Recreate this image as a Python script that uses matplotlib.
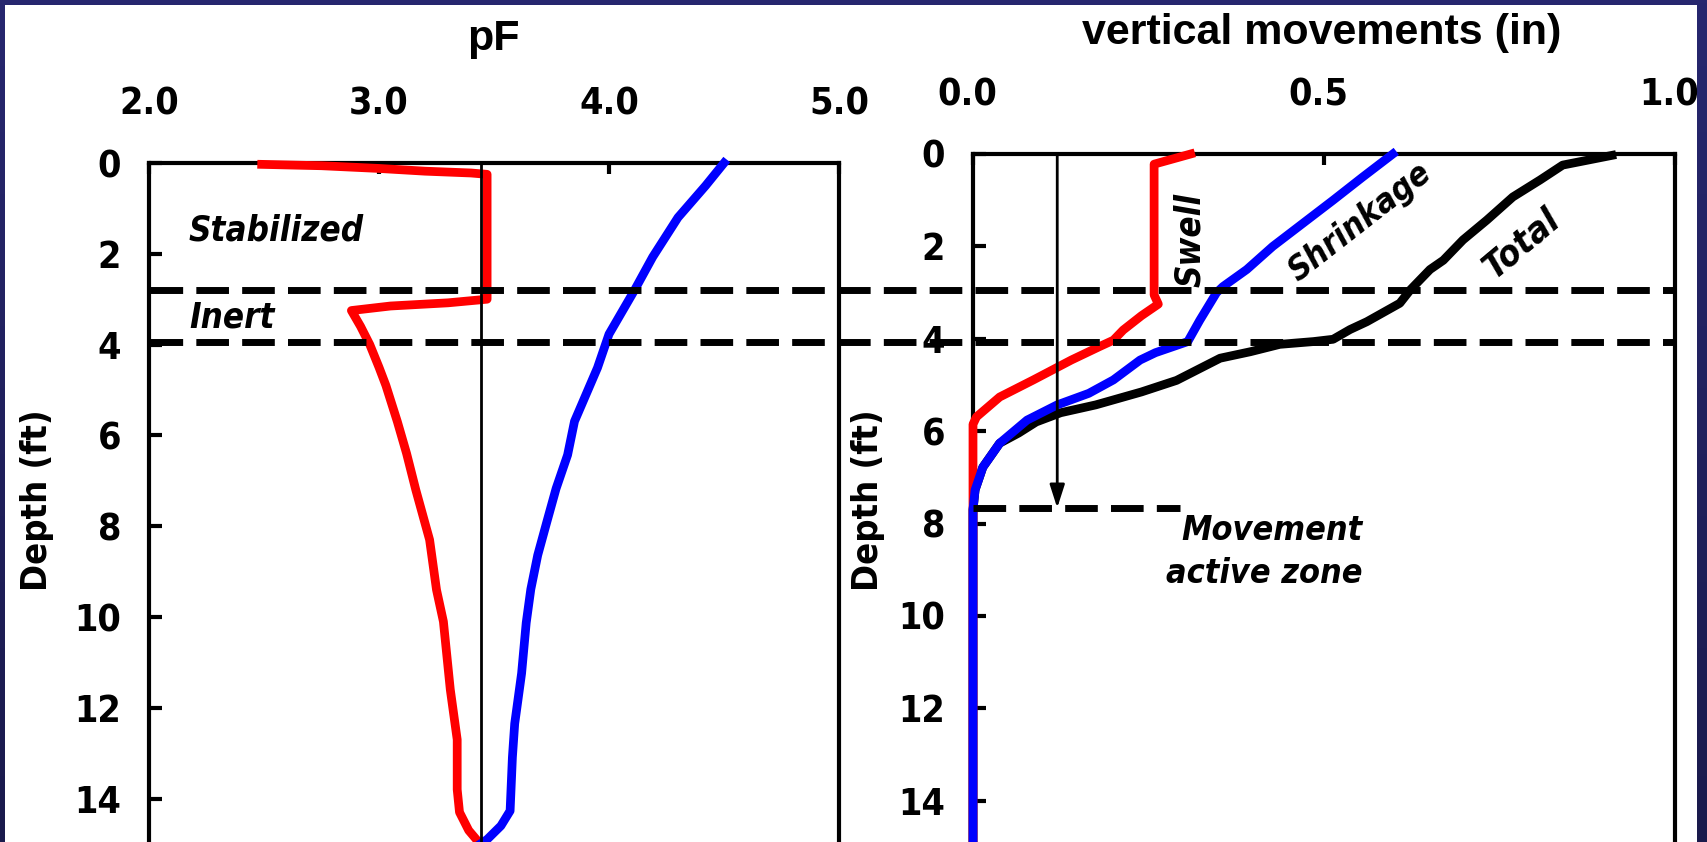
import os
import matplotlib
matplotlib.use('Agg')
import matplotlib.pyplot as plt
import numpy as np
from matplotlib import font_manager as fm
from matplotlib.font_manager import FontProperties
from matplotlib.lines import Line2D
from matplotlib.patches import Rectangle
from matplotlib.transforms import blended_transform_factory, ScaledTranslation

# ---------------- data ----------------
pf_ticks = [2.0, 3.0, 4.0, 5.0]
depth_ticks = [0, 2, 4, 6, 8, 10, 12, 14]

# left panel: suction profiles (pF) vs depth (ft)
red_depth = [0.03, 0.06, 0.12, 0.18, 0.22, 0.25, 3.0, 3.08, 3.15, 3.25, 3.6, 4.0, 4.5,
             4.9, 5.7, 6.4, 7.2, 8.3, 9.4, 10.1, 11.6, 12.7, 13.8, 14.3, 14.7, 15.0]
red_pf = [2.49, 2.75, 3.0, 3.2, 3.4, 3.47, 3.47, 3.3, 3.05, 2.88, 2.92, 2.96, 3.0,
          3.03, 3.08, 3.12, 3.16, 3.22, 3.25, 3.28, 3.31, 3.34, 3.34, 3.35, 3.39, 3.44]
blue_depth = [0.0, 0.5, 1.2, 2.07, 2.81, 3.77, 4.51, 5.69, 6.43, 7.17, 7.9, 8.64, 9.39,
              10.13, 11.24, 12.35, 13.09, 14.27, 14.6, 14.9, 15.0]
blue_pf = [4.50, 4.42, 4.30, 4.19, 4.11, 4.0, 3.95, 3.85, 3.82, 3.77, 3.73, 3.69, 3.66,
           3.64, 3.62, 3.59, 3.58, 3.57, 3.53, 3.47, 3.44]
pf_ref = 3.443

# right panel: vertical movements (in) vs depth (ft)
mv_ticks = [0.0, 0.5, 1.0]
swell_depth = [0.0, 0.22, 3.05, 3.25, 3.5, 3.81, 4.03, 4.17, 4.46, 4.89, 5.26, 5.69, 5.85, 15.0]
swell_in = [0.31, 0.258, 0.258, 0.264, 0.24, 0.214, 0.2, 0.18, 0.14, 0.086, 0.038, 0.005, 0.0, 0.0]
shrink_depth = [0.0, 0.5, 1.0, 1.5, 2.0, 2.5, 2.87, 3.0, 3.6, 4.06, 4.3, 4.46, 4.89, 5.18,
                5.43, 5.76, 6.26, 6.78, 7.27, 7.7, 15.0]
shrink_in = [0.598, 0.555, 0.513, 0.47, 0.427, 0.39, 0.356, 0.347, 0.323, 0.306, 0.26, 0.238,
             0.2, 0.165, 0.12, 0.077, 0.038, 0.014, 0.003, 0.0, 0.0]
total_depth = [0.03, 0.06, 0.24, 0.56, 0.93, 1.43, 1.86, 2.3, 2.5, 2.94, 3.23, 3.63, 3.8, 4.01,
               4.06, 4.12, 4.28, 4.42, 4.9, 5.15, 5.43, 5.6, 5.8, 6.04, 6.26, 6.78, 7.27, 7.7, 15.0]
total_in = [0.91, 0.90, 0.84, 0.808, 0.769, 0.732, 0.698, 0.67, 0.651, 0.623, 0.608, 0.561, 0.537,
            0.513, 0.485, 0.437, 0.395, 0.352, 0.29, 0.24, 0.175, 0.125, 0.09, 0.065, 0.038,
            0.014, 0.003, 0.0, 0.0]
arrow_x = 0.12
active_zone_depth = 7.66
active_zone_end = 0.295
zone_bounds = [2.95, 4.06]


# ---------------- fonts ----------------
def _weight(w):
    if isinstance(w, (int, float)):
        return int(w)
    return {'ultralight': 200, 'light': 300, 'normal': 400, 'regular': 400, 'book': 400,
            'medium': 500, 'roman': 400, 'semibold': 600, 'demibold': 600, 'demi': 600,
            'bold': 700, 'heavy': 800, 'extra bold': 800, 'black': 900}.get(str(w).lower(), 400)


FAM_PREF = ['liberation sans narrow', 'arial narrow', 'dejavu sans', 'noto sans',
            'open sans', 'roboto', 'lato', 'inter']


def condensed_file(italic):
    best, best_score = None, None
    for f in fm.fontManager.ttflist:
        nm = (f.name + ' ' + os.path.basename(f.fname)).lower()
        st = str(f.stretch).lower()
        if 'mono' in nm or ('serif' in nm and 'sans' not in nm):
            continue
        if not (st in ('condensed', 'semi-condensed') or 'narrow' in nm or (
                'condensed' in nm and 'extra' not in nm and 'ultra' not in nm
                and 'semi' not in nm)):
            continue
        w = _weight(f.weight)
        if w < 600:
            continue
        is_it = f.style in ('italic', 'oblique') or 'italic' in nm or 'oblique' in nm
        if is_it != italic:
            continue
        fam_rank = len(FAM_PREF)
        for i, p in enumerate(FAM_PREF):
            if nm.startswith(p):
                fam_rank = i
                break
        score = (fam_rank, abs(w - 700), 'semi' in nm or 'semi' in st)
        if best_score is None or score < best_score:
            best, best_score = f.fname, score
    return best


_reg = condensed_file(False)
_ita = condensed_file(True)


def fp(size, italic=False):
    path = _ita if italic else _reg
    if path is not None:
        return FontProperties(fname=path, size=size)
    return FontProperties(family=['Liberation Sans', 'DejaVu Sans'], weight='bold',
                          style='italic' if italic else 'normal', size=size * 0.9)


WIDE = ['Liberation Sans', 'DejaVu Sans']

# ---------------- figure ----------------
W, H = 1708, 842
fig = plt.figure(figsize=(W / 100, H / 100), dpi=100)

# background: navy frame + white panel
bg = fig.add_axes([0, 0, 1, 1], zorder=-5)
grad = np.linspace(0, 1, 256).reshape(-1, 1)
cmap = matplotlib.colors.LinearSegmentedColormap.from_list('nv', ['#27276f', '#1a1a4c'])
bg.imshow(grad, aspect='auto', cmap=cmap, extent=[0, 1, 0, 1], origin='upper')
bg.add_patch(Rectangle((5 / W, 0), (W - 16) / W, (H - 5) / H, transform=bg.transAxes,
                       facecolor='white', edgecolor='none'))
bg.set_xlim(0, 1)
bg.set_ylim(0, 1)
bg.axis('off')

ax1 = fig.add_axes([149 / W, 1 - 844 / H, 690 / W, (844 - 163) / H])
ax2 = fig.add_axes([973 / W, 1 - 847 / H, 702 / W, (847 - 154) / H])

tick_fp = fp(27)
for ax in (ax1, ax2):
    ax.set_facecolor('none')
    ax.set_ylim(15, 0)
    ax.set_yticks(depth_ticks)
    ax.set_yticklabels([str(d) for d in depth_ticks], fontproperties=tick_fp)
    for s in ax.spines.values():
        s.set_linewidth(3)
    ax.tick_params(axis='x', which='both', top=True, bottom=False, labeltop=True,
                   labelbottom=False, direction='in', length=8, width=3, pad=29)
    ax.tick_params(axis='y', which='both', left=True, right=False, direction='in',
                   length=9, width=3, pad=20)

ax1.set_xlim(2.0, 5.0)
ax1.set_xticks(pf_ticks)
ax1.set_xticklabels([f'{v:.1f}' for v in pf_ticks], fontproperties=tick_fp)
ax2.set_xlim(0.0, 1.0)
ax2.set_xticks(mv_ticks)
ax2.set_xticklabels([f'{v:.1f}' for v in mv_ticks], fontproperties=tick_fp)

# right-panel top labels sit slightly left of their ticks in the reference
shift = ScaledTranslation(-6 / 100, 0, fig.dpi_scale_trans)
for tick in ax2.xaxis.get_major_ticks():
    tick.label2.set_transform(tick.label2.get_transform() + shift)

LW = 6.3
ax1.plot(red_pf, red_depth, color='#ff0000', lw=LW, clip_on=False, zorder=4,
         solid_joinstyle='round')
ax1.plot(blue_pf, blue_depth, color='#0000ff', lw=LW, clip_on=False, zorder=4,
         solid_joinstyle='round')
ax1.axvline(pf_ref, color='black', lw=2.0, zorder=6)

ax2.plot(total_in, total_depth, color='black', lw=LW, clip_on=False, zorder=3,
         solid_joinstyle='round')
ax2.plot(swell_in, swell_depth, color='#ff0000', lw=LW, clip_on=False, zorder=4,
         solid_joinstyle='round')
ax2.plot(shrink_in, shrink_depth, color='#0000ff', lw=LW, clip_on=False, zorder=5,
         solid_joinstyle='round')

# movement active zone arrow and dashed line
ax2.annotate('', xy=(arrow_x, active_zone_depth), xytext=(arrow_x, 0),
             arrowprops=dict(arrowstyle='-|>,head_length=1.4,head_width=0.45',
                             color='black', lw=2.0, shrinkA=0, shrinkB=0),
             zorder=6, annotation_clip=False)
ax2.plot([0, active_zone_end], [active_zone_depth, active_zone_depth], color='black',
         lw=5, dashes=(4.7, 1.9), zorder=6, clip_on=False)

# zone boundary dashed lines spanning both panels
tr = blended_transform_factory(fig.transFigure, ax2.transData)
for d in zone_bounds:
    fig.add_artist(Line2D([150 / W, 1673 / W], [d, d], transform=tr, color='black',
                          lw=5, dashes=(4.7, 1.9), zorder=10))

# text annotations
ax1.text(2.174, 1.70, 'Stabilized', ha='left', va='baseline', fontproperties=fp(25, True))
ax1.text(2.174, 3.63, 'Inert', ha='left', va='baseline', fontproperties=fp(25, True))
ax2.text(0.309, 1.86, 'Swell', ha='center', va='center', rotation=90,
         rotation_mode='anchor', fontproperties=fp(25, True))
ax2.text(0.551, 1.47, 'Shrinkage', ha='center', va='center', rotation=38,
         rotation_mode='anchor', fontproperties=fp(24, True))
ax2.text(0.782, 1.93, 'Total', ha='center', va='center', rotation=40,
         rotation_mode='anchor', fontproperties=fp(26, True))
ax2.text(0.555, 8.35, 'Movement', ha='right', va='baseline', fontproperties=fp(24.5, True))
ax2.text(0.555, 9.29, 'active zone', ha='right', va='baseline', fontproperties=fp(24.5, True))

# titles and axis labels
fig.text(493 / W, 1 - 50 / H, 'pF', ha='center', va='baseline', fontsize=31,
         fontweight='bold', family=WIDE)
fig.text(1322 / W, 1 - 44 / H, 'vertical movements (in)', ha='center', va='baseline',
         fontsize=31, fontweight='bold', family=WIDE)
fig.text(37 / W, 1 - 500 / H, 'Depth (ft)', ha='center', va='center', rotation=90,
         fontproperties=fp(26))
fig.text(868 / W, 1 - 500 / H, 'Depth (ft)', ha='center', va='center', rotation=90,
         fontproperties=fp(26))

fig.savefig('out.png', dpi=100)
